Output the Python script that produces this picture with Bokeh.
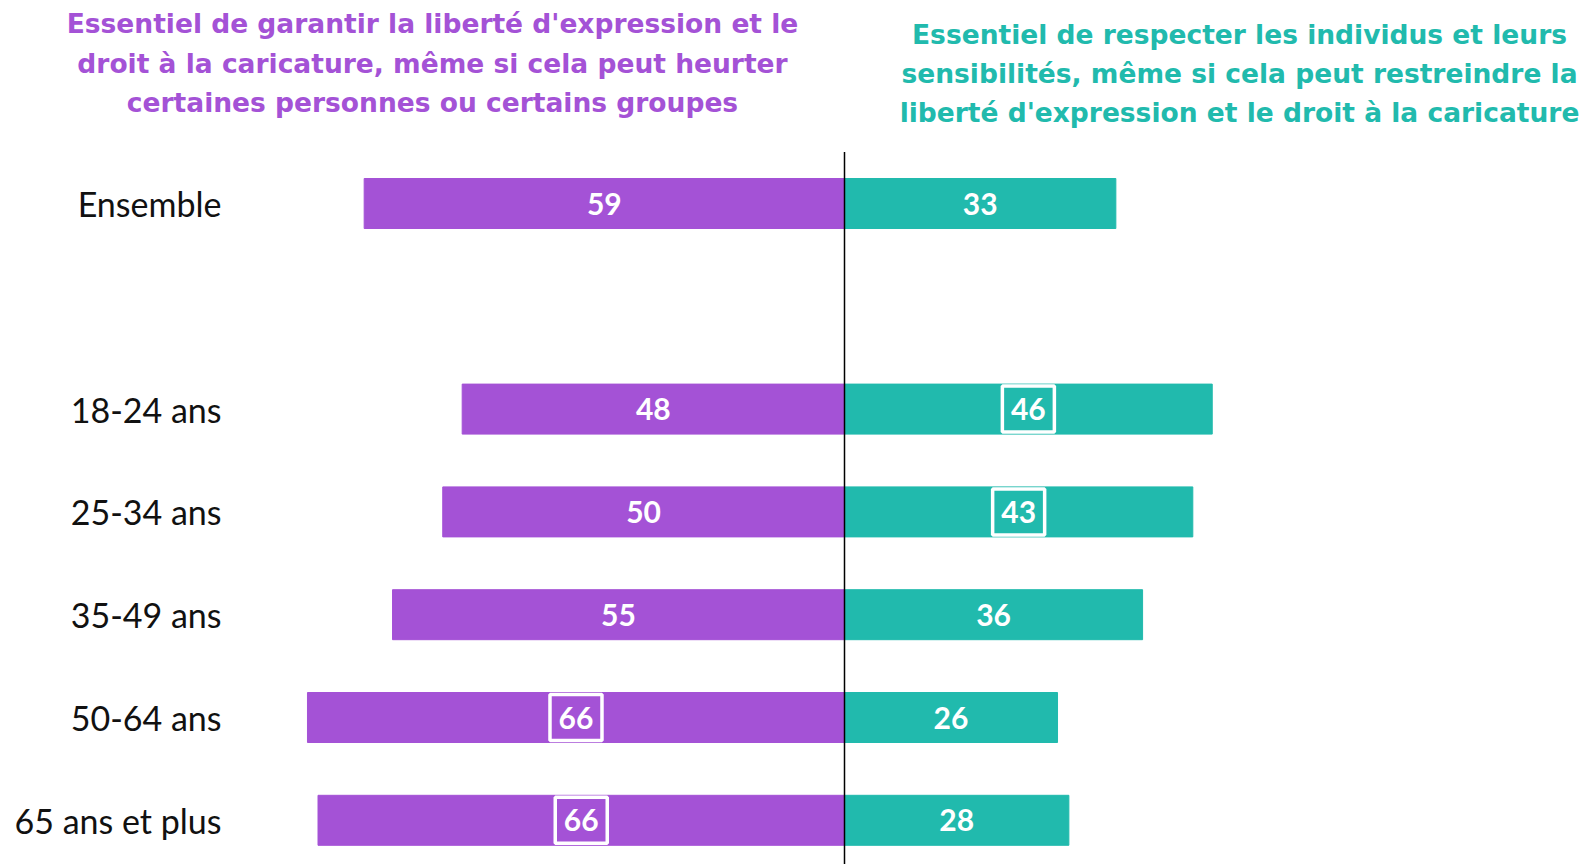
from bokeh.plotting import figure
from bokeh.models import Range1d, Label, ColumnDataSource
from bokeh.core.properties import value
from bokeh.embed import file_html
from bokeh.resources import INLINE

# ---- data ----
categories = ["Ensemble", "18-24 ans", "25-34 ans", "35-49 ans", "50-64 ans", "65 ans et plus"]
liberte_labels = [59, 48, 50, 55, 66, 66]
respect_labels = [33, 46, 43, 36, 26, 28]
# bar lengths
liberte_bars = [59.3, 47.2, 49.6, 55.8, 66.3, 65.0]
respect_bars = [33.5, 45.4, 43.0, 36.8, 26.3, 27.7]
liberte_boxed = [False, False, False, False, True, True]
respect_boxed = [False, True, True, False, False, False]

title_left = ["Essentiel de garantir la liberté d'expression et le",
              "droit à la caricature, même si cela peut heurter",
              "certaines personnes ou certains groupes"]
title_right = ["Essentiel de respecter les individus et leurs",
               "sensibilités, même si cela peut restreindre la",
               "liberté d'expression et le droit à la caricature"]

PURPLE = "#A452D6"
TEAL = "#21BAAD"
FONT = "Lato"
TFONT = "DejaVu Sans"

W, H = 1589, 864
PX_X = 8.1
CX = 844
PX_Y = 102.8
Y0 = 203

# y positions: gap after "Ensemble"
ypos = [0] + [i + 1 for i in range(1, len(categories))]

p = figure(width=W, height=H, output_backend="svg", toolbar_location=None,
           x_range=Range1d(-CX / PX_X, (W - CX) / PX_X),
           y_range=Range1d((H - Y0) / PX_Y, -Y0 / PX_Y),
           min_border=0, outline_line_color=None)
p.axis.visible = False
p.grid.visible = False
p.background_fill_color = "white"
p.border_fill_color = "white"

bh = 50 / PX_Y
src = ColumnDataSource(dict(
    y=ypos, cat=categories,
    l=[-v for v in liberte_bars], r=respect_bars,
    lc=[-v / 2 for v in liberte_bars], rc=[v / 2 for v in respect_bars],
    lt=[str(v) for v in liberte_labels], rt=[str(v) for v in respect_labels],
))
p.hbar(y="y", left="l", right=0, height=bh, color=PURPLE, source=src)
p.hbar(y="y", left=0, right="r", height=bh, color=TEAL, source=src)

# boxes
bx = [-v / 2 for v, b in zip(liberte_bars, liberte_boxed) if b] + \
     [v / 2 for v, b in zip(respect_bars, respect_boxed) if b]
by = [y for y, b in zip(ypos, liberte_boxed) if b] + \
     [y for y, b in zip(ypos, respect_boxed) if b]
p.rect(x=bx, y=by, width=52, width_units="screen", height=46, height_units="screen",
       fill_alpha=0, line_color="white", line_width=3.5)

for xc, tc in (("lc", "lt"), ("rc", "rt")):
    p.text(x=xc, y="y", text=tc, source=src, text_color="white", text_font=value(FONT),
           text_font_style="bold", text_font_size="30px", text_align="center",
           text_baseline="middle")

# category labels
p.text(x=(221 - CX) / PX_X, y="y", text="cat", source=src, text_color="#111111",
       text_font=value(FONT), text_font_size="34px", text_align="right",
       text_baseline="middle")

# center line
p.segment(x0=0, y0=ypos[0] - 0.5, x1=0, y1=(H - Y0) / PX_Y, line_color="black", line_width=1.5)

for i, t in enumerate(title_left):
    p.add_layout(Label(x=432, y=H - (23 + 39.5 * i), x_units="screen", y_units="screen",
                       text=t, text_color=PURPLE, text_font=TFONT, text_font_style="bold",
                       text_font_size="26.5px", text_align="center", text_baseline="middle"))
for i, t in enumerate(title_right):
    p.add_layout(Label(x=1239, y=H - (34 + 39 * i), x_units="screen", y_units="screen",
                       text=t, text_color=TEAL, text_font=TFONT, text_font_style="bold",
                       text_font_size="26.5px", text_align="center", text_baseline="middle"))

open("out.html", "w").write(file_html(p, INLINE))
